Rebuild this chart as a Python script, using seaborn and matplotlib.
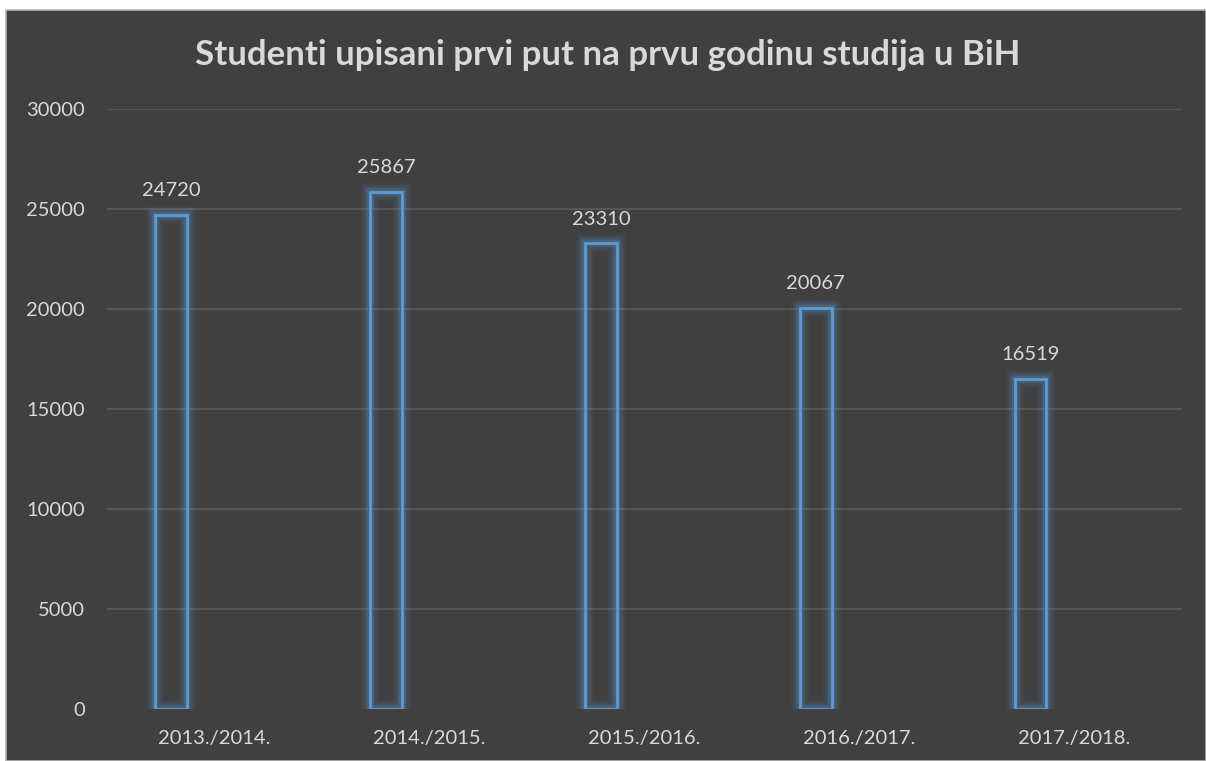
import matplotlib
matplotlib.use("Agg")
import matplotlib.pyplot as plt
import seaborn as sns
import pandas as pd
from matplotlib.patches import Rectangle

# data
years = ['2013./2014.', '2014./2015.', '2015./2016.', '2016./2017.', '2017./2018.']
students = [24720, 25867, 23310, 20067, 16519]
y_ticks = [0, 5000, 10000, 15000, 20000, 25000, 30000]

BG = '#404040'
GRID = '#595959'
TEXT = '#d9d9d9'
BLUE = '#5b9bd5'

sns.set_theme(style='dark')
plt.rcParams['font.family'] = ['Lato', 'DejaVu Sans']

df = pd.DataFrame({'godina': years, 'studenti': students})

fig = plt.figure(figsize=(12.06, 7.61), dpi=100, facecolor='white')
# dark chart area with thin light border
fig.patches.append(Rectangle((6 / 1206, 0), 1 - 6 / 1206, 751 / 761,
                             transform=fig.transFigure, facecolor=BG,
                             edgecolor='#b4b4b4', linewidth=1.2, zorder=-10))

ax = fig.add_axes([107 / 1206, 52 / 761, 1074.5 / 1206, 600 / 761])
ax.set_facecolor(BG)

sns.barplot(data=df, x='godina', y='studenti', ax=ax, width=0.147,
            color=BG, edgecolor=BLUE, linewidth=2, zorder=3)

# shift bars left of category centre like the original clustered chart
bars = list(ax.patches)
for p in bars:
    p.set_x(p.get_x() - 0.202)
    p.set_facecolor('none')

# soft glow around bars
for lw, a in [(13, 0.06), (10, 0.09), (7, 0.13), (4.5, 0.2)]:
    for p in bars:
        g = Rectangle((p.get_x(), p.get_y()), p.get_width(), p.get_height(),
                      facecolor='none', edgecolor=BLUE, linewidth=lw,
                      alpha=a, zorder=2, joinstyle='miter')
        ax.add_patch(g)

ax.bar_label(ax.containers[0], labels=[str(v) for v in students],
             padding=11, color=TEXT, fontsize=14.5)

ax.set_xlim(-0.5, len(years) - 0.5)
ax.set_ylim(0, 30000)
ax.set_yticks(y_ticks)
ax.set_yticklabels([str(t) for t in y_ticks])
ax.yaxis.grid(True, color=GRID, linewidth=1.3, zorder=0)
ax.xaxis.grid(False)
ax.set_axisbelow(True)
ax.yaxis.get_gridlines()[0].set_visible(False)

ax.tick_params(axis='y', length=0, pad=16, labelsize=14.5, labelcolor=TEXT)
ax.tick_params(axis='x', length=0, pad=15, labelsize=14.5, labelcolor=TEXT)
ax.set_xlabel('')
ax.set_ylabel('')
for s in ax.spines.values():
    s.set_visible(False)

fig.text(607.5 / 1206, 1 - 55 / 761,
         'Studenti upisani prvi put na prvu godinu studija u BiH',
         ha='center', va='center', fontsize=25.1, fontweight='bold', color=TEXT)

fig.savefig('out.png', dpi=100, facecolor='white')
